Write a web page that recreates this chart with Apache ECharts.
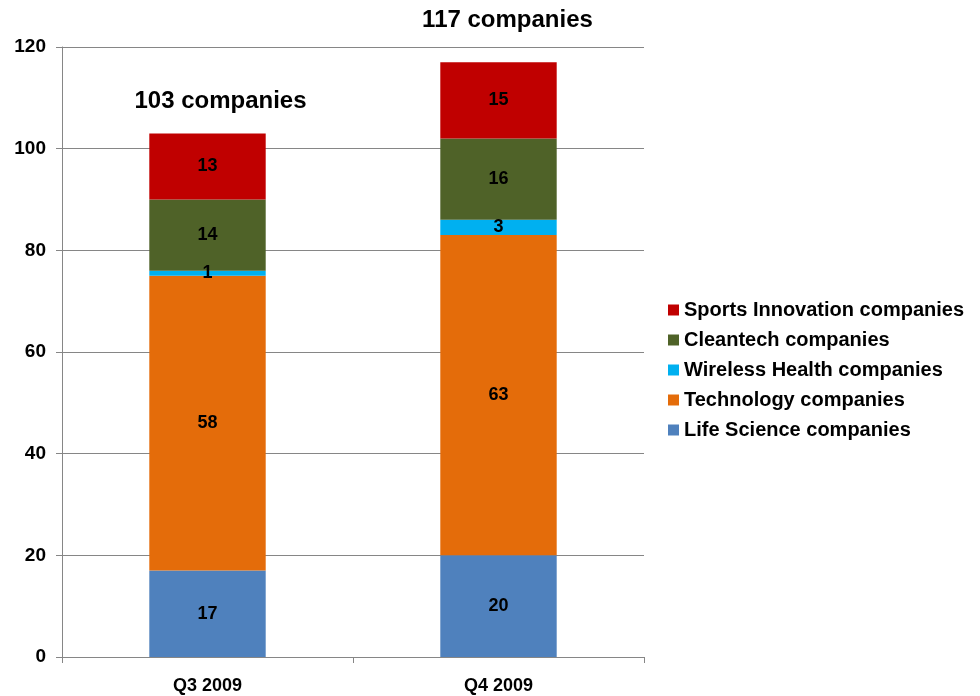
<!DOCTYPE html>
<html>
<head>
<meta charset="utf-8">
<script src="https://cdn.jsdelivr.net/npm/echarts@6/dist/echarts.min.js"></script>
<style>
  html, body { margin: 0; padding: 0; background: #fff; }
  #chart { width: 980px; height: 696px; }
</style>
</head>
<body>
<div id="chart"></div>
<script>
// data
var quarters = ['Q3 2009', 'Q4 2009'];
var lifeScience = [17, 20];
var technology = [58, 63];
var wirelessHealth = [1, 3];
var cleantech = [14, 16];
var sportsInnovation = [13, 15];
var totals = [103, 117];
var totalLabels = ['103 companies', '117 companies'];

var names = ['Life Science companies', 'Technology companies', 'Wireless Health companies',
             'Cleantech companies', 'Sports Innovation companies'];
var colors = ['#4F81BD', '#E46C0A', '#00B0F0', '#4F6228', '#C00000'];
var values = [lifeScience, technology, wirelessHealth, cleantech, sportsInnovation];

var font = 'Liberation Sans, Arial, sans-serif';
var myChart = echarts.init(document.getElementById('chart'));

var series = [];
for (var i = 0; i < names.length; i++) {
    series.push({
        name: names[i],
        type: 'bar',
        stack: 'all',
        barWidth: '40%',
        data: values[i],
        itemStyle: { color: colors[i] },
        label: {
            show: true,
            position: 'inside',
            color: '#000',
            fontFamily: font,
            fontWeight: 'bold',
            fontSize: 18
        }
    });
}
// totals above the bars
series.push({
    name: 'totals',
    type: 'scatter',
    symbolSize: 0,
    clip: false,
    silent: true,
    itemStyle: { color: '#000', opacity: 1 },
    data: totals.map(function (v, i) {
        return {
            value: v,
            label: { offset: i === 0 ? [13, -15] : [9, -25] }
        };
    }),
    label: {
        show: true,
        position: 'top',
        formatter: function (p) { return totalLabels[p.dataIndex]; },
        color: '#000',
        opacity: 1,
        fontFamily: font,
        fontWeight: 'bold',
        fontSize: 24
    },
    emphasis: { disabled: true }
});

var option = {
    animation: false,
    textStyle: { fontFamily: font },
    grid: { left: 62, right: 336, top: 47, bottom: 39 },
    legend: {
        orient: 'vertical',
        left: 663,
        top: 295,
        icon: 'rect',
        itemWidth: 11,
        itemHeight: 11,
        itemGap: 10,
        data: names.slice().reverse(),
        textStyle: { color: '#000', fontSize: 20, fontWeight: 'bold', fontFamily: font }
    },
    xAxis: {
        type: 'category',
        data: quarters,
        axisLine: { lineStyle: { color: '#868686' } },
        axisTick: { show: true, length: 6, lineStyle: { color: '#868686' } },
        axisLabel: { color: '#000', fontSize: 18, fontWeight: 'bold', margin: 20 }
    },
    yAxis: {
        type: 'value',
        min: 0,
        max: 120,
        interval: 20,
        axisLine: { show: true, lineStyle: { color: '#868686' } },
        axisTick: { show: true, length: 6, lineStyle: { color: '#868686' } },
        splitLine: { lineStyle: { color: '#868686' } },
        axisLabel: { color: '#000', fontSize: 19, fontWeight: 'bold', margin: 16 }
    },
    series: series
};
myChart.setOption(option);
</script>
</body>
</html>
